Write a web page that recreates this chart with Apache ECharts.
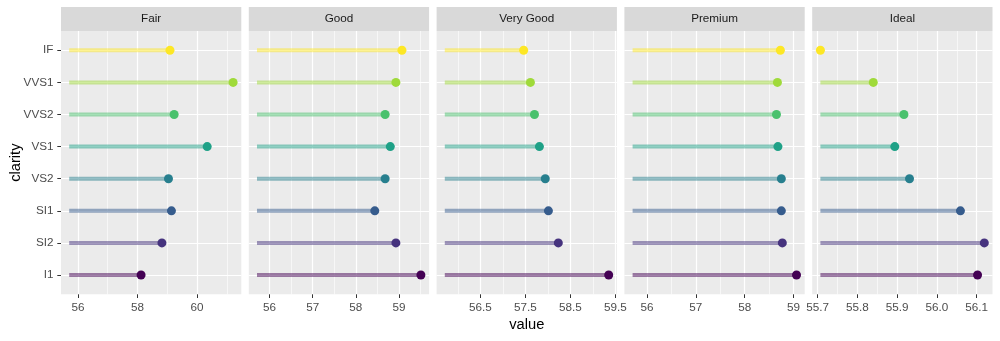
<!DOCTYPE html>
<html><head><meta charset="utf-8">
<script src="https://cdn.jsdelivr.net/npm/echarts@6/dist/echarts.min.js"></script>
<style>html,body{margin:0;padding:0;background:#fff}#c{width:1000px;height:341px}</style>
</head><body><div id="c"></div>
<script>
const clarity = ['I1','SI2','SI1','VS2','VS1','VVS2','VVS1','IF'];
const cuts = ['Fair','Good','Very Good','Premium','Ideal'];
const fair     = [58.12, 58.82, 59.14, 59.04, 60.34, 59.23, 61.21, 59.09];
const good     = [59.51, 58.93, 58.44, 58.68, 58.80, 58.68, 58.93, 59.07];
const veryGood = [59.35, 58.23, 58.01, 57.94, 57.81, 57.70, 57.61, 57.46];
const premium  = [59.06, 58.77, 58.75, 58.75, 58.68, 58.65, 58.67, 58.73];
const ideal    = [56.102, 56.119, 56.059, 55.931, 55.894, 55.917, 55.840, 55.707];
const majorTicks = [[56,58,60],[56,57,58,59],[56.5,57.5,58.5,59.5],[56,57,58,59],[55.7,55.8,55.9,56.0,56.1]];
const minorTicks = [[57,59,61],[56.5,57.5,58.5,59.5],[56,57,58,59],[56.5,57.5,58.5],[55.75,55.85,55.95,56.05]];
const tickDecimals = [0,0,1,0,1];
const colors = ['#440154','#46337E','#365C8D','#277F8E','#1FA187','#4AC16D','#9FDA3A','#FDE725'];

const panels = [fair, good, veryGood, premium, ideal];
const allVals = panels.flat();
const segStart = Math.min(...allVals);

const FONT = 'Liberation Sans, Arial, sans-serif';
const L0 = 61, STEP = 187.8, W = 180.3, TOP = 31, H = 263.3, STRIP_TOP = 7;

const grids = [], xAxes = [], yAxes = [], series = [], graphics = [];
panels.forEach((vals, i) => {
  const lo = segStart, hi = Math.max(...vals);
  const pad = (hi - lo) * 0.05;
  const left = L0 + i * STEP;
  grids.push({left: left, top: TOP, width: W, height: H, show: true, backgroundColor: '#EBEBEB', borderWidth: 0});
  xAxes.push({
    type: 'value', gridIndex: i, min: lo - pad, max: hi + pad,
    axisLine: {show: false},
    axisTick: {show: true, length: 3.7, lineStyle: {color: '#333333', width: 1}, customValues: majorTicks[i]},
    axisLabel: {show: true, margin: 7, color: '#4D4D4D', fontSize: 11.7, fontFamily: FONT,
      customValues: majorTicks[i], formatter: v => Number(v).toFixed(tickDecimals[i])},
    splitLine: {show: true, lineStyle: {color: '#FFFFFF', width: 1.2}}
  });
  xAxes.push({
    type: 'value', gridIndex: i, min: lo - pad, max: hi + pad,
    axisLine: {show: false},
    axisTick: {show: false, customValues: minorTicks[i]},
    axisLabel: {show: false, customValues: minorTicks[i]},
    splitLine: {show: true, lineStyle: {color: '#FFFFFF', width: 0.6}}
  });
  yAxes.push({
    type: 'value', gridIndex: i, min: 0.4, max: 8.6,
    axisLine: {show: false},
    axisTick: {show: i === 0, length: 3.7, lineStyle: {color: '#333333', width: 1}, customValues: [1,2,3,4,5,6,7,8]},
    axisLabel: {show: i === 0, margin: 7.5, color: '#4D4D4D', fontSize: 11.7, fontFamily: FONT,
      customValues: [1,2,3,4,5,6,7,8], formatter: v => clarity[Math.round(v) - 1]},
    splitLine: {show: true, lineStyle: {color: '#FFFFFF', width: 1.2}}
  });
  series.push({
    type: 'custom', xAxisIndex: 2 * i, yAxisIndex: i, silent: true, z: 3,
    data: vals.map((v, j) => [v, j + 1, j]),
    renderItem: (params, api) => {
      const y = api.value(1);
      const p0 = api.coord([segStart, y]);
      const p1 = api.coord([api.value(0), y]);
      return {type: 'line', shape: {x1: p0[0], y1: p0[1], x2: p1[0], y2: p1[1]},
        style: {stroke: colors[api.value(2)], lineWidth: 4, opacity: 0.5, lineCap: 'butt'}};
    }
  });
  series.push({
    type: 'scatter', xAxisIndex: 2 * i, yAxisIndex: i, silent: true, z: 4,
    symbol: 'circle', symbolSize: 9,
    data: vals.map((v, j) => ({value: [v, j + 1], itemStyle: {color: colors[j], opacity: 1}}))
  });
  graphics.push({type: 'rect', left: left, top: STRIP_TOP, shape: {width: W, height: TOP - STRIP_TOP},
    style: {fill: '#D9D9D9'}, silent: true});
  graphics.push({type: 'text', x: left + W / 2, y: STRIP_TOP + (TOP - STRIP_TOP) / 2,
    style: {text: cuts[i], fill: '#1A1A1A', font: '11.7px ' + FONT, textAlign: 'center', textVerticalAlign: 'middle'}, silent: true});
});
graphics.push({type: 'text', x: (L0 + L0 + 4 * STEP + W) / 2, y: 325,
  style: {text: 'value', fill: '#000000', font: '14.7px ' + FONT, textAlign: 'center', textVerticalAlign: 'middle'}});
graphics.push({type: 'text', x: 16, y: TOP + H / 2, rotation: Math.PI / 2,
  style: {text: 'clarity', fill: '#000000', font: '14.7px ' + FONT, textAlign: 'center', textVerticalAlign: 'middle'}});

const chart = echarts.init(document.getElementById('c'), null, {renderer: 'canvas'});
chart.setOption({
  animation: false, backgroundColor: '#FFFFFF',
  grid: grids, xAxis: xAxes, yAxis: yAxes, series: series, graphic: graphics
});
</script>
</body></html>
